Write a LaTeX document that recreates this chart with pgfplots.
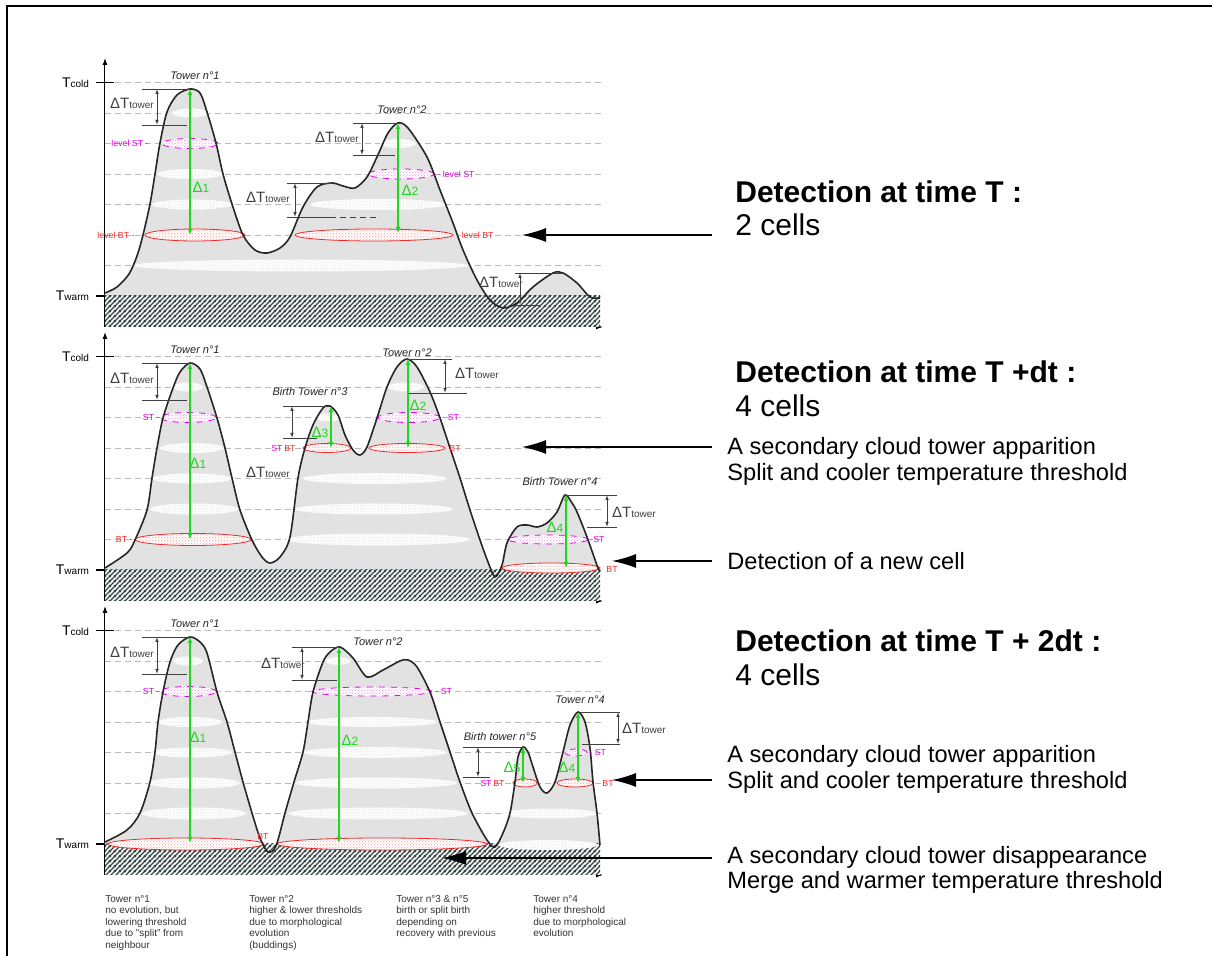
\documentclass[border=0pt]{standalone}
\usepackage{pgfplots}
\usepackage{pgfplotstable}
\pgfplotsset{compat=1.18}
\usepackage{fontspec}
\setmainfont{Liberation Sans}
\usetikzlibrary{arrows.meta,patterns,patterns.meta}

\definecolor{cloud}{RGB}{226,226,226}
\definecolor{lgreen}{RGB}{30,215,30}
\definecolor{mag}{RGB}{225,0,225}
\definecolor{lred}{RGB}{235,40,40}
\definecolor{hatchc}{RGB}{55,70,70}

\tikzdeclarepattern{
  name=hatch, type=uncolored,
  bounding box={(0pt,0pt) and (2.5pt,2.5pt)},
  tile size={(2.5pt,2.5pt)},
  code={
    \draw[line width=0.75pt] (-0.5pt,-0.5pt) -- (3pt,3pt);
    \draw[line width=0.75pt] (-0.5pt,2pt) -- (0.5pt,3pt);
    \draw[line width=0.75pt] (2pt,-0.5pt) -- (3pt,0.5pt);
  }
}
\tikzdeclarepattern{
  name=fdots, type=uncolored,
  bounding box={(0pt,0pt) and (1.6pt,1.6pt)},
  tile size={(1.6pt,1.6pt)},
  code={
    \fill (0.4pt,0.4pt) circle (0.28pt);
    \fill (1.2pt,1.2pt) circle (0.28pt);
  }
}

\tikzset{
  wel/.style={draw=none, fill=white, postaction={pattern=fdots, pattern color=black!15}},
  rel/.style={fill=white, draw=lred, line width=0.4pt, postaction={pattern=fdots, pattern color=lred!60}},
  mel/.style={fill=white, draw=mag, dashed, line width=0.4pt, postaction={pattern=fdots, pattern color=mag!60}},
  bk/.style={black!75, line width=0.45pt},
  lab/.style={font=\fontsize{4.4}{5}\selectfont, inner sep=0.5pt},
  tw/.style={font=\fontsize{5.5}{6}\selectfont\itshape, text=black!85, inner sep=0pt},
  dt/.style={text=black!75, inner sep=0pt},
  gl/.style={text=lgreen, inner sep=0pt},
  garr/.style={lgreen, line width=0.75pt, {Latex[length=3pt,width=2.5pt]}-{Latex[length=3pt,width=2.5pt]}},
  bigarr/.style={black, line width=0.7pt, -{Latex[length=12pt,width=7pt]}},
  ttl/.style={font=\fontsize{15}{18}\selectfont\bfseries, inner sep=0pt, anchor=base west},
  sub/.style={font=\fontsize{15}{18}\selectfont, inner sep=0pt, anchor=base west},
  rt/.style={font=\fontsize{11.8}{14}\selectfont, inner sep=0pt, anchor=base west},
  note/.style={font=\fontsize{5}{5.75}\selectfont, align=left, inner sep=0pt, anchor=north west, text=black!80},
}

\newcommand{\dT}{{\fontsize{7.5}{8}\selectfont ΔT}{\fontsize{5}{6}\selectfont tower}}
\newcommand{\Dl}[1]{{\fontsize{7.5}{8}\selectfont Δ}{\fontsize{6}{7}\selectfont #1}}
\newcommand{\TT}[1]{{\fontsize{7}{8}\selectfont T}{\fontsize{5}{6}\selectfont #1}}
% top left x, top right x, bottom left x, bottom right x, arrow x, top h, bottom h
\newcommand{\brk}[7]{%
  \draw[bk] (axis cs:#1,#6) -- (axis cs:#2,#6) (axis cs:#3,#7) -- (axis cs:#4,#7);
  \draw[bk, {Latex[length=2.5pt,width=1.8pt]}-{Latex[length=2.5pt,width=1.8pt]}] (axis cs:#5,#6) -- (axis cs:#5,#7);}

\pgfplotsset{
  panel/.style={
    at={(52.5pt,#1)}, anchor=south west,
    scale only axis, width=249pt, height=134.5pt,
    xmin=105, xmax=603, ymin=-31, ymax=238,
    axis lines=left,
    x axis line style={line width=0.5pt, -{Latex[length=3.5pt,width=2.5pt]}},
    y axis line style={line width=0.5pt, -{Latex[length=3.5pt,width=2.5pt]}},
    xtick=\empty,
    ytick={0,213.5}, yticklabels={\TT{warm},\TT{cold}},
    major tick length=9pt, tick align=center,
    tick style={black, line width=0.6pt},
    ymajorgrids,
    grid style={gray!55, line width=0.4pt, dash pattern=on 3pt off 2pt},
    extra y ticks={30.5,61,91.5,122,152.5,183},
    extra y tick labels={},
    extra y tick style={grid=major, major tick length=0pt},
    clip=false,
  },
  prof/.style={black!85, line width=0.8pt, smooth, tension=0.5},
  pfill/.style={fill=cloud, draw=none, smooth, tension=0.5},
}

% cloud top profiles: x (px along the scan), h (height above Twarm)
\pgfplotstableread{
x h
105 3
117 9
129 22
137 40
143 61
150 92
155 122
160 153
167 184
177 201
190 207
200 203
207 184
216 153
223 122
232 92
243 61
255 46
267 43
280 48
290 59
303 89
317 109
332 113
343 110
355 108
367 119
377 139
388 163
398 173
408 168
427 139
440 106
453 73
463 46
477 16
490 -4
503 -12
517 -7
533 9
553 23
563 23
577 13
590 -1
600 -2
}\profA

\pgfplotstableread{
x h
105 2
127 17
135 30
147 60
152 92
157 122
163 152
173 182
180 198
190 207
200 201
207 183
217 152
225 122
232 92
240 60
252 30
262 13
270 7
280 13
290 33
298 92
305 122
313 145
323 162
330 164
338 155
345 135
353 120
360 115
367 123
377 152
387 183
397 203
407 211
417 203
430 178
440 152
450 122
460 92
470 60
480 30
488 8
495 -7
502 5
507 27
517 43
527 45
537 43
547 47
557 58
565 75
572 67
577 58
587 33
598 2
600 0
}\profB

\pgfplotstableread{
x h
105 2
127 14
140 31
150 62
155 92
158 122
163 152
170 182
178 199
190 207
200 202
207 191
217 152
227 122
235 92
243 62
252 31
260 6
268 -8
276 -2
285 31
294 62
303 92
308 122
313 152
323 182
330 192
340 197
353 186
367 167
383 174
400 183
408 184
417 177
430 152
440 122
450 92
460 62
472 31
487 4
495 -3
503 11
510 31
515 62
518 87
523 97
528 92
533 77
540 57
547 51
555 62
563 92
570 119
578 132
585 122
590 96
593 62
597 31
600 -1
}\profC

\begin{document}
\begin{tikzpicture}

% ---------------- panel 1 : time T ----------------
\begin{axis}[panel=-163.5pt]
\addplot[pfill] table[x=x,y=h] {\profA} \closedcycle;
\fill[white] (axis cs:105,-31) rectangle (axis cs:600,0);
\fill[pattern=hatch, pattern color=hatchc] (axis cs:105,-31) rectangle (axis cs:600,0);
\draw[wel] (axis cs:190,183) ellipse [x radius=18, y radius=4.5];
\draw[wel] (axis cs:398,152.5) ellipse [x radius=18, y radius=4.5];
\draw[mel] (axis cs:190,152.5) ellipse [x radius=28, y radius=5];
\draw[wel] (axis cs:190,122) ellipse [x radius=33, y radius=5];
\draw[mel] (axis cs:401,122) ellipse [x radius=33, y radius=5];
\draw[wel] (axis cs:192,91.5) ellipse [x radius=40, y radius=5];
\draw[wel] (axis cs:378,91.5) ellipse [x radius=68, y radius=5.5];
\draw[rel] (axis cs:195,61) ellipse [x radius=50, y radius=6];
\draw[rel] (axis cs:374,61) ellipse [x radius=79, y radius=6];
\draw[wel] (axis cs:300,30.5) ellipse [x radius=168, y radius=6];
\addplot[prof] table[x=x,y=h] {\profA};

\node[lab, mag, anchor=east] at (axis cs:150,152.5) {level ST -};
\node[lab, lred, anchor=east] at (axis cs:136,61) {level BT -};
\node[lab, mag, anchor=west] at (axis cs:436,122) {- level ST};
\node[lab, lred, anchor=west] at (axis cs:455,61) {- level BT};
\node[tw] at (axis cs:195,220) {Tower n°1};
\node[tw] at (axis cs:402,186) {Tower n°2};

\brk{142}{190}{142}{187}{157}{207}{171}
\brk{353}{400}{353}{395}{362}{173}{141}
\brk{287}{332}{287}{330}{295}{113}{79}
\draw[bk, densely dashed] (axis cs:330,79) -- (axis cs:380,79);
\brk{515}{563}{515}{540}{520}{23}{-9}
\node[dt] at (axis cs:132,193) {\dT};
\node[dt] at (axis cs:337,159) {\dT};
\node[dt] at (axis cs:268,99) {\dT};
\node[dt] at (axis cs:501,14) {\dT};

\draw[garr] (axis cs:190,207) -- (axis cs:190,61);
\node[gl] at (axis cs:201,109) {\Dl{1}};
\draw[garr] (axis cs:398,173) -- (axis cs:398,63);
\node[gl] at (axis cs:410,106) {\Dl{2}};

\node[ttl] at (axis cs:735,93) {Detection at time T :};
\node[sub] at (axis cs:735,60) {2 cells};
\draw[bigarr] (axis cs:712,61) -- (axis cs:522,61);
\end{axis}

% ---------------- panel 2 : time T + dt ----------------
\begin{axis}[panel=-300.5pt]
\addplot[pfill] table[x=x,y=h] {\profB} \closedcycle;
\fill[white] (axis cs:105,-31) rectangle (axis cs:600,0);
\fill[pattern=hatch, pattern color=hatchc] (axis cs:105,-31) rectangle (axis cs:600,0);
\draw[wel] (axis cs:188,183) ellipse [x radius=15, y radius=4.5];
\draw[wel] (axis cs:406,183) ellipse [x radius=18, y radius=4.5];
\draw[mel] (axis cs:188,152.5) ellipse [x radius=28, y radius=5];
\draw[wel] (axis cs:328,152.5) ellipse [x radius=12, y radius=4];
\draw[mel] (axis cs:409,152.5) ellipse [x radius=31, y radius=5];
\draw[wel] (axis cs:192,122) ellipse [x radius=32, y radius=5];
\draw[rel] (axis cs:327,122) ellipse [x radius=24, y radius=4.5];
\draw[rel] (axis cs:407,122) ellipse [x radius=38, y radius=4.5];
\draw[wel] (axis cs:192,91.5) ellipse [x radius=40, y radius=5];
\draw[wel] (axis cs:375,91.5) ellipse [x radius=72, y radius=5.5];
\draw[wel] (axis cs:194,61) ellipse [x radius=44, y radius=5.5];
\draw[wel] (axis cs:374,61) ellipse [x radius=79, y radius=5.5];
\draw[rel] (axis cs:193,30.5) ellipse [x radius=58, y radius=6];
\draw[wel] (axis cs:378,30.5) ellipse [x radius=92, y radius=6];
\draw[mel] (axis cs:548,30.5) ellipse [x radius=40, y radius=4.5];
\draw[rel] (axis cs:551,2) ellipse [x radius=49, y radius=5];
\addplot[prof] table[x=x,y=h] {\profB};

\node[lab, mag, anchor=east] at (axis cs:161,152.5) {ST -};
\node[lab, lred, anchor=east] at (axis cs:134,30.5) {BT -};
\node[lab, mag, anchor=east] at (axis cs:284,122) {ST};
\node[lab, lred, anchor=east] at (axis cs:297,122) {BT};
\node[lab, mag, anchor=west] at (axis cs:441,152.5) {- ST};
\node[lab, lred, anchor=west] at (axis cs:448,122) {BT};
\node[lab, mag, anchor=west] at (axis cs:589,30.5) {-ST};
\node[lab, lred, anchor=west] at (axis cs:605,1) {BT};
\node[tw] at (axis cs:195,220) {Tower n°1};
\node[tw] at (axis cs:310,178) {Birth Tower n°3};
\node[tw] at (axis cs:407,217) {Tower n°2};
\node[tw] at (axis cs:560,88) {Birth Tower n°4};

\brk{142}{190}{142}{187}{157}{207}{170}
\brk{283}{330}{283}{317}{292}{164}{132}
\brk{407}{452}{407}{467}{445}{211}{177}
\brk{565}{617}{587}{617}{607}{75}{43}
\node[dt] at (axis cs:132,192) {\dT};
\node[dt] at (axis cs:268,98) {\dT};
\node[dt] at (axis cs:477,197) {\dT};
\node[dt] at (axis cs:634,58) {\dT};

\draw[garr] (axis cs:190,207) -- (axis cs:190,30.5);
\node[gl] at (axis cs:198,107) {\Dl{1}};
\draw[garr] (axis cs:331,164) -- (axis cs:331,122);
\node[gl] at (axis cs:320,138) {\Dl{3}};
\draw[garr] (axis cs:408,211) -- (axis cs:408,122);
\node[gl] at (axis cs:418,165) {\Dl{2}};
\draw[garr] (axis cs:566,75) -- (axis cs:566,2);
\node[gl] at (axis cs:555,43) {\Dl{4}};

\node[ttl] at (axis cs:735,187) {Detection at time T +dt :};
\node[sub] at (axis cs:735,153) {4 cells};
\draw[bigarr] (axis cs:712,123) -- (axis cs:522,123);
\node[rt] at (axis cs:727,115.5) {A secondary cloud tower apparition};
\node[rt] at (axis cs:727,89.5) {Split and cooler temperature threshold};
\draw[bigarr] (axis cs:712,9) -- (axis cs:612,9);
\node[rt] at (axis cs:727,0.5) {Detection of a new cell};
\end{axis}

% ---------------- panel 3 : time T + 2dt ----------------
\begin{axis}[panel=-437.5pt]
\addplot[pfill] table[x=x,y=h] {\profC} \closedcycle;
\fill[white] (axis cs:105,-31) rectangle (axis cs:600,0);
\fill[pattern=hatch, pattern color=hatchc] (axis cs:105,-31) rectangle (axis cs:600,0);
\draw[wel] (axis cs:188,183) ellipse [x radius=15, y radius=4.5];
\draw[wel] (axis cs:338,183) ellipse [x radius=12, y radius=4];
\draw[mel] (axis cs:188,152.5) ellipse [x radius=28, y radius=5];
\draw[mel] (axis cs:372,152.5) ellipse [x radius=60, y radius=4.5];
\draw[wel] (axis cs:190,122) ellipse [x radius=32, y radius=5];
\draw[wel] (axis cs:372,122) ellipse [x radius=65, y radius=5];
\draw[wel] (axis cs:192,91.5) ellipse [x radius=40, y radius=5];
\draw[wel] (axis cs:375,91.5) ellipse [x radius=72, y radius=5.5];
\draw[mel] (axis cs:576,91.5) ellipse [x radius=11, y radius=3.5];
\draw[wel] (axis cs:194,61) ellipse [x radius=46, y radius=5.5];
\draw[wel] (axis cs:376,61) ellipse [x radius=81, y radius=5.5];
\draw[rel] (axis cs:525,61) ellipse [x radius=12, y radius=4];
\draw[rel] (axis cs:575,61) ellipse [x radius=18, y radius=4];
\draw[wel] (axis cs:194,30.5) ellipse [x radius=52, y radius=6];
\draw[wel] (axis cs:378,30.5) ellipse [x radius=90, y radius=6];
\draw[wel] (axis cs:550,30.5) ellipse [x radius=47, y radius=5];
\draw[rel] (axis cs:186,0) ellipse [x radius=78, y radius=6];
\draw[rel] (axis cs:382,0) ellipse [x radius=105, y radius=6];
\draw[wel] (axis cs:548,-1) ellipse [x radius=50, y radius=5];
\addplot[prof] table[x=x,y=h] {\profC};

\node[lab, mag, anchor=east] at (axis cs:161,152.5) {ST -};
\node[lab, mag, anchor=west] at (axis cs:434,152.5) {- ST};
\node[lab, mag, anchor=west] at (axis cs:588,91.5) {- ST};
\node[lab, mag, anchor=east] at (axis cs:493,61) {ST};
\node[lab, lred, anchor=east] at (axis cs:506,61) {BT};
\node[lab, lred, anchor=west] at (axis cs:601,61) {BT};
\node[lab, lred] at (axis cs:263,8) {BT};
\node[tw] at (axis cs:195,220) {Tower n°1};
\node[tw] at (axis cs:378,202) {Tower n°2};
\node[tw] at (axis cs:500,107) {Birth tower n°5};
\node[tw] at (axis cs:580,144) {Tower n°4};

\brk{142}{190}{142}{187}{157}{207}{170}
\brk{292}{340}{292}{337}{302}{197}{164}
\brk{463}{523}{463}{490}{478}{97}{67}
\brk{580}{620}{582}{620}{618}{132}{100}
\node[dt] at (axis cs:132,192) {\dT};
\node[dt] at (axis cs:283,181) {\dT};
\node[dt] at (axis cs:644,116) {\dT};

\draw[garr] (axis cs:190,207) -- (axis cs:190,1);
\node[gl] at (axis cs:198,107) {\Dl{1}};
\draw[garr] (axis cs:339,197) -- (axis cs:339,1);
\node[gl] at (axis cs:350,104) {\Dl{2}};
\draw[garr] (axis cs:523,97) -- (axis cs:523,61);
\node[gl] at (axis cs:512,77) {\Dl{5}};
\draw[garr] (axis cs:578,132) -- (axis cs:578,61);
\node[gl] at (axis cs:567,77) {\Dl{4}};

\node[ttl] at (axis cs:735,192) {Detection at time T + 2dt :};
\node[sub] at (axis cs:735,158) {4 cells};
\node[rt] at (axis cs:727,81.5) {A secondary cloud tower apparition};
\node[rt] at (axis cs:727,55.5) {Split and cooler temperature threshold};
\draw[bigarr] (axis cs:712,64) -- (axis cs:612,64);
\node[rt] at (axis cs:727,-19.5) {A secondary cloud tower disappearance};
\node[rt] at (axis cs:727,-44.5) {Merge and warmer temperature threshold};
\draw[bigarr] (axis cs:712,-14) -- (axis cs:442,-14);

\node[note] at (axis cs:105,-51) {Tower n°1\\no evolution, but\\lowering threshold\\due to "split" from\\neighbour};
\node[note] at (axis cs:249,-51) {Tower n°2\\higher \& lower thresholds\\due to morphological\\evolution\\(buddings)};
\node[note] at (axis cs:396,-51) {Tower n°3 \& n°5\\birth or split birth\\depending on\\recovery with previous};
\node[note] at (axis cs:533,-51) {Tower n°4\\higher threshold\\due to morphological\\evolution};
\end{axis}

\draw[line width=1.1pt] (3.5pt,-478pt) -- (3.5pt,-3pt) -- (606pt,-3pt);
\pgfresetboundingbox
\path (0pt,0pt) rectangle (606pt,-478pt);
\end{tikzpicture}
\end{document}
